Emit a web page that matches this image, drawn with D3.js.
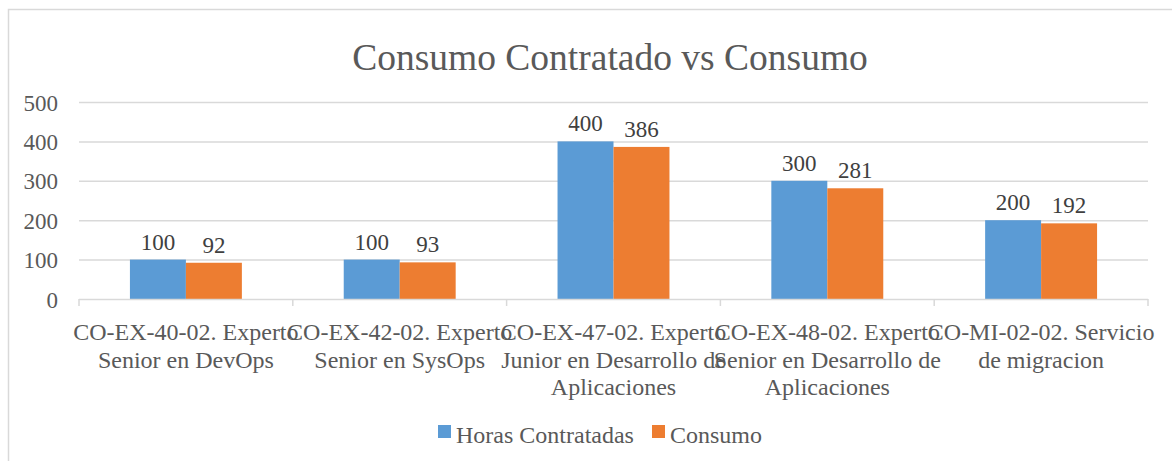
<!DOCTYPE html>
<html>
<head>
<meta charset="utf-8">
<script src="https://cdn.jsdelivr.net/npm/d3@7"></script>
<style>
  body { margin: 0; background: #fff; }
  svg text { font-family: "Liberation Serif", "Times New Roman", serif !important; }
</style>
</head>
<body>
<div id="chart"></div>
<script>
// data
var categories = ["CO-EX-40-02", "CO-EX-42-02", "CO-EX-47-02", "CO-EX-48-02", "CO-MI-02-02"];
var categoryLines = [
    ["CO-EX-40-02. Experto", "Senior en DevOps"],
    ["CO-EX-42-02. Experto", "Senior en SysOps"],
    ["CO-EX-47-02. Experto", "Junior en Desarrollo de", "Aplicaciones"],
    ["CO-EX-48-02. Experto", "Senior en Desarrollo de", "Aplicaciones"],
    ["CO-MI-02-02. Servicio", "de migracion"]
];
var seriesNames = ["Horas Contratadas", "Consumo"];
var horasContratadas = [100, 100, 400, 300, 200];
var consumo = [92, 93, 386, 281, 192];
var yTicks = [0, 100, 200, 300, 400, 500];
var colors = ["#5b9bd5", "#ed7d31"];

var width = 1172;
var height = 461;

var margin = {top: 102, bottom: 162, left: 79, right: 24};

var svg = d3.select('#chart')
    .append('svg')
    .attr('width', width)
    .attr('height', height);

// chart frame
svg.append('rect')
    .attr('x', 8.5)
    .attr('y', 9.5)
    .attr('width', 1180)
    .attr('height', 470)
    .attr('fill', 'none')
    .attr('stroke', '#d9d9d9')
    .attr('stroke-width', 1.5);

svg.append('text')
    .attr('x', 610)
    .attr('y', 70)
    .attr('text-anchor', 'middle')
    .style('font-size', '37.5px')
    .style('fill', '#595959')
    .text('Consumo Contratado vs Consumo');

var innerW = width - margin.left - margin.right;
var innerH = height - margin.top - margin.bottom;

var g = svg.append('g')
    .attr('transform', 'translate(' + margin.left + ',' + margin.top + ')');

var x_scale = d3.scaleBand()
    .domain(categories)
    .range([0, innerW])
    .paddingInner(0)
    .paddingOuter(0);

var x_inner = d3.scaleBand()
    .domain(seriesNames)
    .range([0, x_scale.bandwidth()])
    .paddingInner(0)
    .paddingOuter(0.91);

var y_scale = d3.scaleLinear()
    .domain([0, 500])
    .range([innerH, 0]);

// gridlines
g.selectAll('.grid')
    .data(yTicks.filter(function (d) { return d > 0; }))
    .enter().append('line')
    .attr('class', 'grid')
    .attr('x1', 0)
    .attr('x2', innerW)
    .attr('y1', function (d) { return y_scale(d) + 0.5; })
    .attr('y2', function (d) { return y_scale(d) + 0.5; })
    .attr('stroke', '#d9d9d9')
    .attr('stroke-width', 1.5);

// y axis labels
var y_axis = d3.axisLeft(y_scale).tickValues(yTicks).tickSize(0).tickPadding(21);
g.append('g')
    .attr('class', 'y axis')
    .call(y_axis)
    .call(function (s) { s.select('.domain').remove(); })
    .selectAll('text')
    .style('font-size', '23px')
    .style('fill', '#595959')
    .attr('dy', '0.35em');

// bars
var rows = categories.map(function (c, i) {
    return {cat: c, values: [horasContratadas[i], consumo[i]]};
});

var groups = g.selectAll('.cat')
    .data(rows)
    .enter().append('g')
    .attr('class', 'cat')
    .attr('transform', function (d) { return 'translate(' + x_scale(d.cat) + ',0)'; });

var bars = groups.selectAll('rect')
    .data(function (d) {
        return d.values.map(function (v, j) { return {name: seriesNames[j], value: v, idx: j}; });
    })
    .enter();

bars.append('rect')
    .attr('x', function (d) { return x_inner(d.name); })
    .attr('width', x_inner.bandwidth())
    .attr('y', function (d) { return y_scale(d.value); })
    .attr('height', function (d) { return innerH - y_scale(d.value); })
    .attr('fill', function (d) { return colors[d.idx]; });

bars.append('text')
    .attr('x', function (d) { return x_inner(d.name) + x_inner.bandwidth() / 2; })
    .attr('y', function (d) { return y_scale(d.value) - 10; })
    .attr('text-anchor', 'middle')
    .style('font-size', '23px')
    .style('fill', '#404040')
    .text(function (d) { return d.value; });

// x axis line + ticks at band edges
var x_axis = g.append('g')
    .attr('class', 'x axis')
    .attr('transform', 'translate(0,' + innerH + ')');

x_axis.append('line')
    .attr('x1', 0)
    .attr('x2', innerW)
    .attr('y1', 0.5)
    .attr('y2', 0.5)
    .attr('stroke', '#d9d9d9')
    .attr('stroke-width', 1.5);

var edges = categories.map(function (c) { return x_scale(c); }).concat([innerW]);
x_axis.selectAll('.tick-mark')
    .data(edges)
    .enter().append('line')
    .attr('class', 'tick-mark')
    .attr('x1', function (d) { return d; })
    .attr('x2', function (d) { return d; })
    .attr('y1', 0)
    .attr('y2', 7)
    .attr('stroke', '#d9d9d9')
    .attr('stroke-width', 1.5);

var labels = x_axis.selectAll('.x-label')
    .data(categories)
    .enter().append('text')
    .attr('class', 'x-label')
    .attr('text-anchor', 'middle')
    .attr('transform', function (d) {
        return 'translate(' + (x_scale(d) + x_scale.bandwidth() / 2) + ',41)';
    })
    .style('font-size', '24px')
    .style('fill', '#595959');

labels.selectAll('tspan')
    .data(function (d, i) { return categoryLines[i]; })
    .enter().append('tspan')
    .attr('x', 0)
    .attr('dy', function (d, i) { return i === 0 ? 0 : 27.5; })
    .text(function (d) { return d; });

// legend
var legend = svg.selectAll('.legend')
    .data(seriesNames)
    .enter().append('g')
    .attr('class', 'legend')
    .attr('transform', function (d, i) {
        return 'translate(' + (i === 0 ? 438 : 652) + ',425)';
    });

legend.append('rect')
    .attr('width', 13)
    .attr('height', 13)
    .attr('fill', function (d, i) { return colors[i]; });

legend.append('text')
    .attr('x', 18)
    .attr('y', 18)
    .style('font-size', '24px')
    .style('fill', '#595959')
    .text(function (d) { return d; });
</script>
</body>
</html>
